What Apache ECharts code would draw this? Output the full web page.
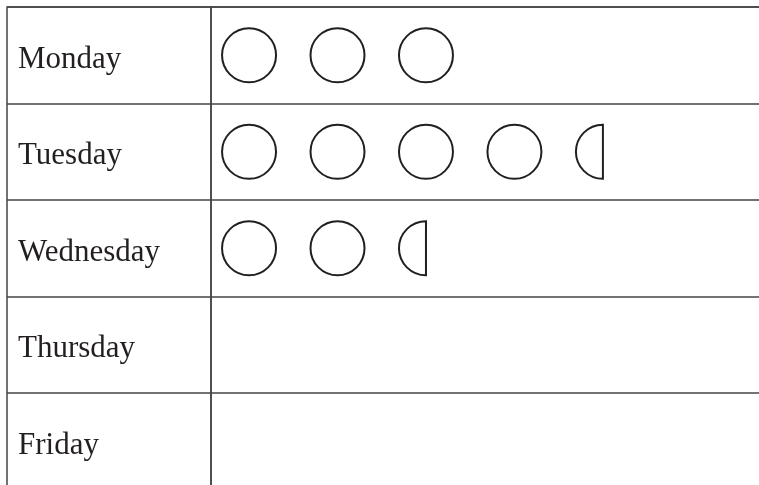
<!DOCTYPE html>
<html lang="en">
<head>
    <meta charset="UTF-8">
    <title>Pictograph</title>
    <script src="https://cdn.jsdelivr.net/npm/echarts@6/dist/echarts.min.js"></script>
    <style>
        html, body { margin: 0; padding: 0; background: #fff; }
        #chartBox { width: 759px; height: 485px; }
    </style>
</head>
<body>
    <div id="chartBox"></div>
    <script>
        // rows of the pictograph, top to bottom
        var days = ['Monday', 'Tuesday', 'Wednesday', 'Thursday', 'Friday'];
        // number of circles per row (0.5 = half circle)
        var circleCount = [3, 4.5, 2.5, 0, 0];

        var lineColor = '#444';
        var inkColor = '#231f20';

        var chart = echarts.init(document.getElementById('chartBox'));

        function drawRow(params, api) {
            var count = api.value(0);
            var row = api.value(1);
            var children = [];
            var whole = Math.floor(count);
            for (var i = 0; i < whole; i++) {
                var p = api.coord([i + 0.5, row]);
                children.push({
                    type: 'circle',
                    shape: { cx: p[0], cy: p[1], r: 27 },
                    style: { fill: 'none', stroke: inkColor, lineWidth: 2 }
                });
            }
            if (count - whole >= 0.5) {
                var h = api.coord([whole + 0.5, row]);
                children.push({
                    type: 'sector',
                    shape: { cx: h[0], cy: h[1], r0: 0, r: 27, startAngle: Math.PI / 2, endAngle: Math.PI * 1.5, clockwise: true },
                    style: { fill: 'none', stroke: inkColor, lineWidth: 2 }
                });
            }
            return { type: 'group', children: children };
        }

        var option = {
            animation: false,
            backgroundColor: '#fff',
            grid: [
                { left: 7, top: 7, width: 204, height: 482.5, outerBoundsMode: 'none', show: true, borderColor: lineColor, borderWidth: 1.5, backgroundColor: 'transparent' },
                { left: 211, top: 7, width: 560, height: 482.5, outerBoundsMode: 'none', show: true, borderColor: lineColor, borderWidth: 1.5, backgroundColor: 'transparent' }
            ],
            xAxis: [
                { gridIndex: 0, type: 'value', min: 0, max: 1, show: false },
                { gridIndex: 1, type: 'value', min: 0.07, max: 6.4, show: false }
            ],
            yAxis: [
                {
                    gridIndex: 0,
                    type: 'category',
                    data: days,
                    inverse: true,
                    axisLine: { show: false },
                    axisTick: { show: false },
                    splitLine: { show: true, interval: 0, lineStyle: { color: lineColor, width: 1.5 } },
                    axisLabel: {
                        inside: true,
                        margin: 11,
                        align: 'left',
                        interval: 0,
                        formatter: function (v) { return '{d|' + v + '}'; },
                        rich: {
                            d: {
                                color: inkColor,
                                fontFamily: 'Liberation Serif',
                                fontSize: 31,
                                padding: [9, 0, 0, 0]
                            }
                        }
                    }
                },
                {
                    gridIndex: 1,
                    type: 'category',
                    data: days,
                    inverse: true,
                    axisLine: { show: false },
                    axisTick: { show: false },
                    axisLabel: { show: false },
                    splitLine: { show: true, interval: 0, lineStyle: { color: lineColor, width: 1.5 } }
                }
            ],
            series: [{
                type: 'custom',
                xAxisIndex: 1,
                yAxisIndex: 1,
                renderItem: drawRow,
                data: circleCount.map(function (c, i) { return [c, i]; })
            }]
        };

        chart.setOption(option);
    </script>
</body>
</html>
